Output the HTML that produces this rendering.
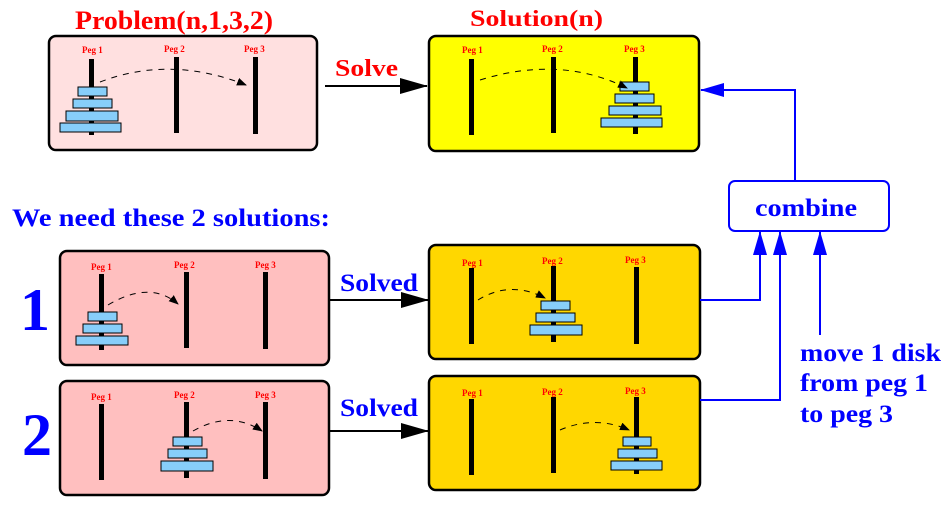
<!DOCTYPE html>
<html><head><meta charset="utf-8"><style>
html,body{margin:0;padding:0;background:#fff;}
svg{display:block;}
text{font-family:"Liberation Serif",serif;font-weight:bold;}
.pl{fill:#ff0000;font-size:9px;}
.peg{fill:#000;}
.d{fill:#87cefa;stroke:#000;stroke-width:1;}
.bx{stroke:#000;stroke-width:2.5;}
.arc{fill:none;stroke:#000;stroke-width:1;stroke-dasharray:6,6;}
</style></head><body>
<svg width="952" height="511" viewBox="0 0 952 511">
<defs>
<marker id="ah" markerWidth="10" markerHeight="8" refX="9" refY="4" orient="auto" markerUnits="userSpaceOnUse"><path d="M0,0 L10,4 L0,8 Z" fill="#000"/></marker>
<marker id="big" markerWidth="28" markerHeight="16" refX="27" refY="8" orient="auto" markerUnits="userSpaceOnUse"><path d="M0,0 L28,8 L0,16 Z" fill="#000"/></marker>
<marker id="bb" markerWidth="24" markerHeight="14" refX="23" refY="7" orient="auto" markerUnits="userSpaceOnUse"><path d="M0,0 L24,7 L0,14 Z" fill="#0000ff"/></marker>
</defs>

<text x="75" y="29" fill="#ff0000" font-size="26" textLength="198" lengthAdjust="spacingAndGlyphs">Problem(n,1,3,2)</text>
<text x="470" y="26" fill="#ff0000" font-size="23" textLength="133" lengthAdjust="spacingAndGlyphs">Solution(n)</text>

<rect class="bx" x="49" y="36" width="268" height="114" rx="7" fill="#ffe0e0"/>
<text class="pl" x="82" y="53">Peg 1</text><text class="pl" x="164" y="52">Peg 2</text><text class="pl" x="244" y="52">Peg 3</text>
<rect class="peg" x="89" y="59" width="5" height="76"/><rect class="peg" x="174" y="57" width="5" height="76"/><rect class="peg" x="253" y="57" width="5" height="77"/>
<rect class="d" x="78" y="87" width="29" height="9"/><rect class="d" x="73" y="99" width="39" height="9"/><rect class="d" x="66" y="111" width="52" height="10"/><rect class="d" x="60" y="123" width="61" height="9"/>
<path class="arc" d="M100,82 Q170,55 246,85" marker-end="url(#ah)"/>

<text x="335" y="76" fill="#ff0000" font-size="24" textLength="63" lengthAdjust="spacingAndGlyphs">Solve</text>
<line x1="325" y1="86" x2="427" y2="86" stroke="#000" stroke-width="2" marker-end="url(#big)"/>

<rect class="bx" x="429" y="36" width="270" height="115" rx="7" fill="#ffff00"/>
<text class="pl" x="462" y="53">Peg 1</text><text class="pl" x="542" y="52">Peg 2</text><text class="pl" x="624" y="52">Peg 3</text>
<rect class="peg" x="469" y="59" width="5" height="76"/><rect class="peg" x="551" y="57" width="5" height="76"/><rect class="peg" x="633" y="57" width="5" height="77"/>
<rect class="d" x="620" y="82" width="29" height="9"/><rect class="d" x="615" y="94" width="39" height="9"/><rect class="d" x="609" y="106" width="52" height="9"/><rect class="d" x="601" y="118" width="61" height="9"/>
<path class="arc" d="M480,80 Q560,55 627,88" marker-end="url(#ah)"/>

<text x="12" y="226" fill="#0000ff" font-size="25" textLength="318" lengthAdjust="spacingAndGlyphs">We need these 2 solutions:</text>
<text x="20" y="330" fill="#0000ff" font-size="60">1</text>
<text x="22" y="455" fill="#0000ff" font-size="60">2</text>

<rect class="bx" x="60" y="251" width="269" height="114" rx="7" fill="#ffbfbf"/>
<text class="pl" x="91" y="270">Peg 1</text><text class="pl" x="174" y="268">Peg 2</text><text class="pl" x="255" y="268">Peg 3</text>
<rect class="peg" x="99" y="274" width="5" height="76"/><rect class="peg" x="184" y="272" width="5" height="76"/><rect class="peg" x="263" y="272" width="5" height="77"/>
<rect class="d" x="88" y="312" width="29" height="9"/><rect class="d" x="83" y="324" width="39" height="9"/><rect class="d" x="76" y="336" width="52" height="9"/>
<path class="arc" d="M108,305 Q150,280 178,304" marker-end="url(#ah)"/>
<text x="340" y="291" fill="#0000ff" font-size="25" textLength="78" lengthAdjust="spacingAndGlyphs">Solved</text>
<line x1="330" y1="300" x2="428" y2="300" stroke="#000" stroke-width="2" marker-end="url(#big)"/>

<rect class="bx" x="429" y="245" width="271" height="114" rx="7" fill="#ffd700"/>
<text class="pl" x="462" y="266">Peg 1</text><text class="pl" x="542" y="264">Peg 2</text><text class="pl" x="625" y="263">Peg 3</text>
<rect class="peg" x="469" y="268" width="5" height="76"/><rect class="peg" x="551" y="266" width="5" height="76"/><rect class="peg" x="634" y="267" width="5" height="77"/>
<rect class="d" x="541" y="301" width="29" height="9"/><rect class="d" x="536" y="313" width="39" height="9"/><rect class="d" x="530" y="325" width="52" height="10"/>
<path class="arc" d="M478,300 Q510,280 545,298" marker-end="url(#ah)"/>

<rect class="bx" x="60" y="381" width="269" height="114" rx="7" fill="#ffbfbf"/>
<text class="pl" x="91" y="400">Peg 1</text><text class="pl" x="174" y="398">Peg 2</text><text class="pl" x="255" y="398">Peg 3</text>
<rect class="peg" x="99" y="404" width="5" height="76"/><rect class="peg" x="184" y="402" width="5" height="76"/><rect class="peg" x="263" y="402" width="5" height="77"/>
<rect class="d" x="173" y="437" width="29" height="9"/><rect class="d" x="168" y="449" width="39" height="9"/><rect class="d" x="161" y="461" width="52" height="10"/>
<path class="arc" d="M193,431 Q230,410 262,431" marker-end="url(#ah)"/>
<text x="340" y="416" fill="#0000ff" font-size="25" textLength="78" lengthAdjust="spacingAndGlyphs">Solved</text>
<line x1="330" y1="431" x2="428" y2="431" stroke="#000" stroke-width="2" marker-end="url(#big)"/>

<rect class="bx" x="429" y="376" width="271" height="114" rx="7" fill="#ffd700"/>
<text class="pl" x="462" y="396">Peg 1</text><text class="pl" x="542" y="395">Peg 2</text><text class="pl" x="625" y="394">Peg 3</text>
<rect class="peg" x="469" y="399" width="5" height="76"/><rect class="peg" x="551" y="397" width="5" height="76"/><rect class="peg" x="634" y="397" width="5" height="77"/>
<rect class="d" x="623" y="437" width="28" height="9"/><rect class="d" x="618" y="449" width="39" height="9"/><rect class="d" x="611" y="461" width="51" height="9"/>
<path class="arc" d="M560,430 Q595,415 629,430" marker-end="url(#ah)"/>

<rect x="729" y="181" width="160" height="50" rx="6" fill="#fff" stroke="#0000ff" stroke-width="2"/>
<text x="755" y="216" fill="#0000ff" font-size="25" textLength="102" lengthAdjust="spacingAndGlyphs">combine</text>
<polyline points="795,181 795,90 701,90" fill="none" stroke="#0000ff" stroke-width="2" marker-end="url(#bb)"/>
<polyline points="700,300 760,300 760,232" fill="none" stroke="#0000ff" stroke-width="2" marker-end="url(#bb)"/>
<polyline points="700,400 780,400 780,232" fill="none" stroke="#0000ff" stroke-width="2" marker-end="url(#bb)"/>
<polyline points="820,335 820,232" fill="none" stroke="#0000ff" stroke-width="2" marker-end="url(#bb)"/>
<text fill="#0000ff" font-size="25" x="800" y="361" textLength="141" lengthAdjust="spacingAndGlyphs">move 1 disk</text>
<text fill="#0000ff" font-size="25" x="800" y="391" textLength="128" lengthAdjust="spacingAndGlyphs">from peg 1</text>
<text fill="#0000ff" font-size="25" x="800" y="422" textLength="93" lengthAdjust="spacingAndGlyphs">to peg 3</text>
</svg>
</body></html>
